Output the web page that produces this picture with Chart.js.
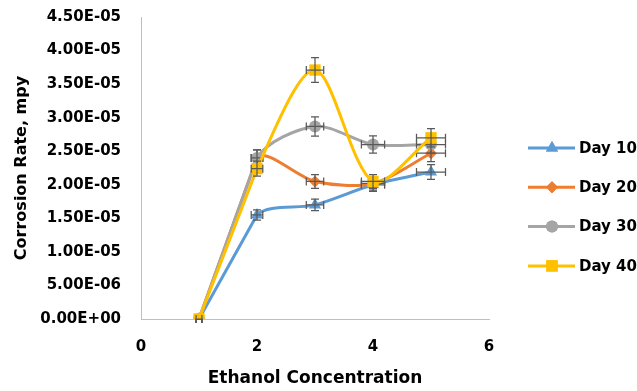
<!DOCTYPE html>
<html>
<head>
<meta charset="utf-8">
<script src="https://cdn.jsdelivr.net/npm/chart.js@4.4.1/dist/chart.umd.min.js"></script>
<style>
  html, body { margin: 0; padding: 0; background: #ffffff; }
  #wrap { width: 637px; height: 391px; position: relative; }
</style>
</head>
<body>
<div id="wrap"><canvas id="c" width="637" height="391"></canvas></div>
<script>
// ---- data ----
const ethanolConc = [1, 2, 3, 4, 5];
const day10 = [0, 1.55e-5, 1.70e-5, 2.00e-5, 2.19e-5];
const day20 = [0, 2.40e-5, 2.05e-5, 2.02e-5, 2.47e-5];
const day30 = [0, 2.40e-5, 2.87e-5, 2.60e-5, 2.60e-5];
const day40 = [0, 2.24e-5, 3.71e-5, 2.05e-5, 2.70e-5];
const seriesNames = ['Day 10', 'Day 20', 'Day 30', 'Day 40'];
const errorPercent = 5; // Excel percentage error bars, both directions
const xTickValues = [0, 2, 4, 6];
const xTickLabels = ['0', '2', '4', '6'];
const yTickValues = [0, 5e-6, 1e-5, 1.5e-5, 2e-5, 2.5e-5, 3e-5, 3.5e-5, 4e-5, 4.5e-5];
const yTickLabels = ['0.00E+00', '5.00E-06', '1.00E-05', '1.50E-05', '2.00E-05',
                     '2.50E-05', '3.00E-05', '3.50E-05', '4.00E-05', '4.50E-05'];
const xTitle = 'Ethanol Concentration';
const yTitle = 'Corrosion Rate, mpy';

// ---- styles ----
const FONT = "'DejaVu Sans', sans-serif";
const colors = ['#5B9BD5', '#ED7D31', '#A5A5A5', '#FFC000'];
const markers = ['triangle', 'rectRot', 'circle', 'rect'];
const radii = [7, 6, 6, 8];
const allSeries = [day10, day20, day30, day40];

const datasets = allSeries.map((vals, i) => ({
  label: seriesNames[i],
  data: vals.map((v, k) => ({ x: ethanolConc[k], y: v })),
  borderColor: colors[i],
  backgroundColor: colors[i],
  borderWidth: 3,
  pointStyle: markers[i],
  pointRadius: radii[i],
  pointHoverRadius: radii[i],
  pointBorderWidth: 0,
  pointBackgroundColor: colors[i],
  tension: 0.3,
  order: allSeries.length - i
}));

// Excel-like smoothing: the first segment (from the zero point) stays straight
const firstSegmentPlugin = {
  id: 'firstSegment',
  beforeDatasetDraw(chart, args) {
    const meta = args.meta;
    const line = meta.dataset;
    line.updateControlPoints(chart.chartArea, meta.iScale.axis);
    const pts = meta.data;
    if (pts.length > 1) {
      const p0 = pts[0], p1 = pts[1];
      p1.cp1x = p1.x - 0.3 * (p1.x - p0.x);
      p1.cp1y = p1.y - 0.3 * (p1.y - p0.y);
      p0.cp2x = p0.x + 0.3 * (p1.x - p0.x);
      p0.cp2y = p0.y + 0.3 * (p1.y - p0.y);
      line._path = undefined;
    }
  }
};

const errorBarPlugin = {
  id: 'errorBars',
  afterDatasetDraw(chart, args) {
    const ctx = chart.ctx;
    const xs = chart.scales.x, ys = chart.scales.y;
    const ds = chart.data.datasets[args.index];
    const cap = 4;
    ctx.save();
    ctx.strokeStyle = '#595959';
    ctx.lineWidth = 1.25;
    ds.data.forEach(p => {
      const px = xs.getPixelForValue(p.x), py = ys.getPixelForValue(p.y);
      const dy = p.y * errorPercent / 100, dx = p.x * errorPercent / 100;
      const yTop = ys.getPixelForValue(p.y + dy), yBot = ys.getPixelForValue(p.y - dy);
      const xL = xs.getPixelForValue(p.x - dx), xR = xs.getPixelForValue(p.x + dx);
      ctx.beginPath();
      ctx.moveTo(px, yTop); ctx.lineTo(px, yBot);
      ctx.moveTo(px - cap, yTop); ctx.lineTo(px + cap, yTop);
      ctx.moveTo(px - cap, yBot); ctx.lineTo(px + cap, yBot);
      ctx.moveTo(xL, py); ctx.lineTo(xR, py);
      ctx.moveTo(xL, py - cap); ctx.lineTo(xL, py + cap);
      ctx.moveTo(xR, py - cap); ctx.lineTo(xR, py + cap);
      ctx.stroke();
    });
    ctx.restore();
  }
};

const legendPlugin = {
  id: 'excelLegend',
  afterDraw(chart) {
    const ctx = chart.ctx;
    const x0 = 528, x1 = 575, xm = 552, tx = 579, yStart = 148, gap = 39.3;
    ctx.save();
    chart.data.datasets.forEach((ds, i) => {
      const y = yStart + i * gap;
      ctx.strokeStyle = ds.borderColor;
      ctx.lineWidth = 3;
      ctx.beginPath(); ctx.moveTo(x0, y); ctx.lineTo(x1, y); ctx.stroke();
      ctx.fillStyle = ds.borderColor;
      Chart.helpers.drawPoint(ctx, { pointStyle: ds.pointStyle, radius: ds.pointRadius, borderWidth: 0, rotation: 0 }, xm, y);
      ctx.fill();
      ctx.fillStyle = '#000000';
      ctx.font = "bold 15px " + FONT;
      ctx.textAlign = 'left';
      ctx.textBaseline = 'middle';
      ctx.fillText(ds.label, tx, y + 1);
    });
    ctx.restore();
  }
};

new Chart(document.getElementById('c'), {
  type: 'line',
  data: { datasets },
  plugins: [firstSegmentPlugin, errorBarPlugin, legendPlugin],
  options: {
    responsive: false,
    animation: false,
    devicePixelRatio: 1,
    layout: { padding: { left: 0, right: 148, top: 17, bottom: 0 } },
    plugins: { legend: { display: false }, tooltip: { enabled: false } },
    scales: {
      x: {
        type: 'linear',
        min: 0, max: 6,
        afterBuildTicks: s => { s.ticks = xTickValues.map(v => ({ value: v })); },
        afterFit: s => { s.height = 72; },
        ticks: {
          padding: 2,
          color: '#000000',
          font: { family: FONT, size: 15, weight: 'bold' },
          callback: (v, i) => xTickLabels[i]
        },
        grid: { drawOnChartArea: false, drawTicks: true, tickLength: 17, tickColor: 'rgba(0,0,0,0)' },
        border: { display: true, color: '#BFBFBF', width: 1 },
        title: {
          display: true, text: xTitle, color: '#000000',
          font: { family: FONT, size: 17, weight: 'bold' },
          padding: { top: 0, bottom: 2 }
        }
      },
      y: {
        type: 'linear',
        min: 0, max: 4.5e-5,
        afterBuildTicks: s => { s.ticks = yTickValues.map(v => ({ value: v })); },
        afterFit: s => { s.width = 141; },
        ticks: {
          padding: 2,
          color: '#000000',
          font: { family: FONT, size: 15, weight: 'bold' },
          callback: (v, i) => yTickLabels[i]
        },
        grid: { drawOnChartArea: false, drawTicks: true, tickLength: 18, tickColor: 'rgba(0,0,0,0)' },
        border: { display: true, color: '#BFBFBF', width: 1 },
        title: {
          display: true, text: yTitle, color: '#000000',
          font: { family: FONT, size: 16, weight: 'bold' },
          padding: { top: 12, bottom: 0 }
        }
      }
    }
  }
});
</script>
</body>
</html>
